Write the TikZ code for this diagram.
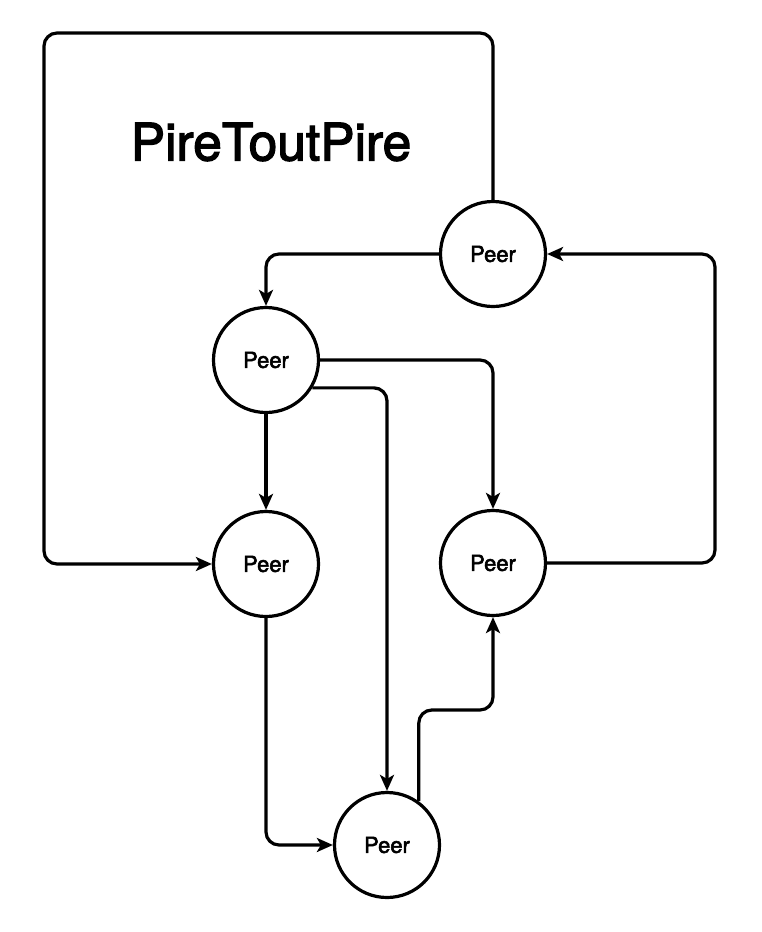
\documentclass[tikz,border=0pt]{standalone}
\usepackage{fontspec}
\setmainfont{TeX Gyre Heros}
\newfontfamily\medfont{TeX Gyre Heros}[FakeBold=2.5]
\usetikzlibrary{arrows.meta}
\begin{document}
\begin{tikzpicture}[x=1pt,y=-1pt,
  peer/.style={draw, circle, line width=3.2pt, minimum size=105pt, inner sep=0pt, font=\medfont\fontsize{22}{26}\selectfont},
  conn/.style={line width=3.2pt, rounded corners=13pt, -{Stealth[length=16pt,width=14pt,inset=4pt]}}]
\useasboundingbox (0,0) rectangle (762,932);
\node[font=\medfont\fontsize{51.5}{60}\selectfont] (title) at (271,142) {PireToutPire};
\node[peer] (A) at (493,254) {Peer};
\node[peer] (B) at (266,360) {Peer};
\node[peer] (C) at (266,564) {Peer};
\node[peer] (D) at (493,563) {Peer};
\node[peer] (E) at (387,845) {Peer};
\coordinate (k1) at (44,33);
\coordinate (k2) at (493,710);
\coordinate (k3) at (715,254);
\draw[conn] (A.north) |- (k1) |- (C.west);
\draw[conn] (A.west) -| (B.north);
\draw[conn] (B.east) -| (D.north);
\draw[conn] (B.-31) -| (E.north);
\draw[conn] (B.south) -- (C.north);
\draw[conn] (C.south) |- (E.west);
\draw[conn] (E.54) |- (k2) -- (D.south);
\draw[conn] (D.east) -| (k3) -- (A.east);
\end{tikzpicture}
\end{document}
